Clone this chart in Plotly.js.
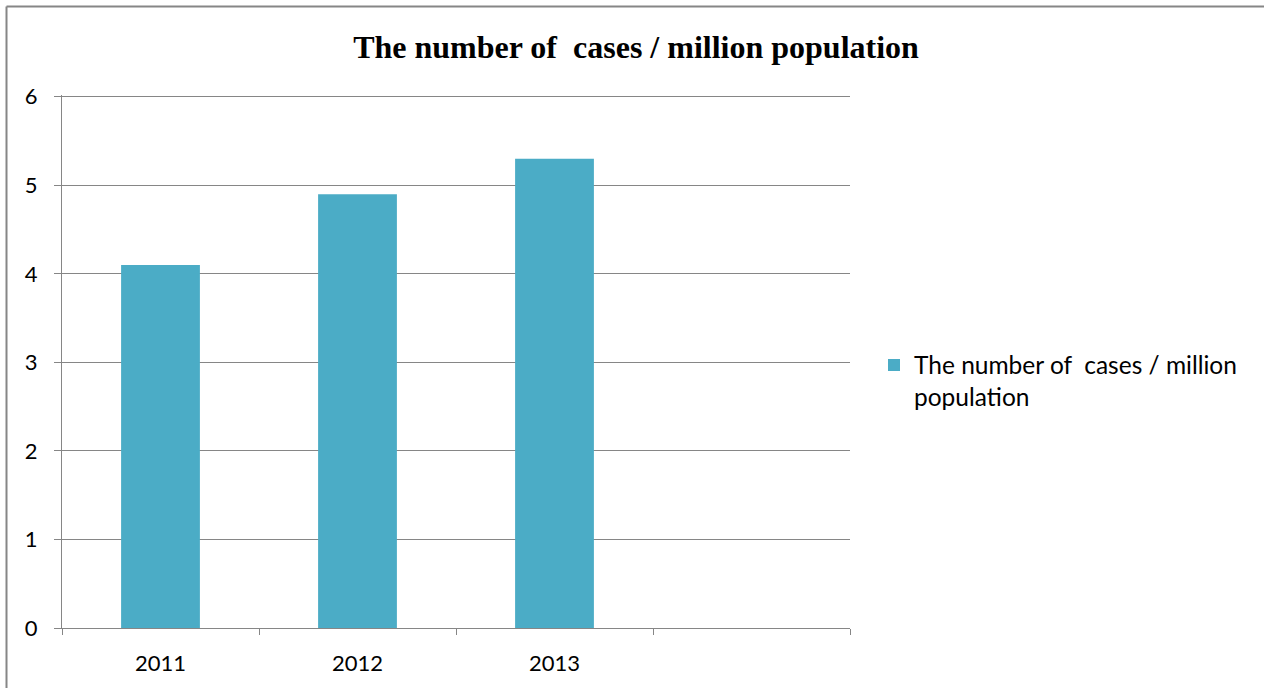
<!DOCTYPE html>
<html>
<head>
<meta charset="utf-8">
<script src="https://cdn.plot.ly/plotly-3.0.1.min.js"></script>
<style>
html,body{margin:0;padding:0;background:#fff;}
#chart{width:1264px;height:688px;}
</style>
</head>
<body>
<div id="chart"></div>
<script>
const categories = ["2011", "2012", "2013", " "];
const values = [4.1, 4.9, 5.3, null];
const seriesName = "The number of&nbsp; cases / million<br>population";
const chartTitle = "The number of&nbsp; cases / million population";
const yTicks = [0, 1, 2, 3, 4, 5, 6];

const W = 1264, H = 688;
const margin = {l: 62, r: 414, t: 95, b: 60};
const pw = W - margin.l - margin.r, ph = H - margin.t - margin.b;
const px = v => (v - margin.l) / pw;
const py = v => 1 - (v - margin.t) / ph;

const trace = {
  type: "bar",
  x: categories,
  y: values,
  name: seriesName,
  marker: {color: "#4BACC6"},
  width: 0.4,
  showlegend: true,
  hoverinfo: "x+y"
};

const tickFont = {family: "Lato, Noto Sans, sans-serif", size: 22, color: "#000"};

const layout = {
  width: W, height: H,
  margin: margin,
  paper_bgcolor: "#fff",
  plot_bgcolor: "#fff",
  title: {
    text: "<b>" + chartTitle + "</b>",
    font: {family: "Liberation Serif, Times New Roman, serif", size: 32, color: "#000"},
    x: 636 / W, xanchor: "center", xref: "container",
    y: 1 - 47 / H, yanchor: "middle", yref: "container"
  },
  font: tickFont,
  xaxis: {
    type: "category",
    categoryorder: "array",
    categoryarray: categories,
    range: [-0.5, 3.5],
    tickson: "boundaries",
    ticks: "outside",
    ticklen: 6,
    tickcolor: "#868686",
    tickwidth: 1,
    showline: true,
    linecolor: "#868686",
    linewidth: 1,
    showgrid: false,
    zeroline: false,
    ticklabelstandoff: 16,
    tickfont: tickFont
  },
  yaxis: {
    range: [0, 6.02],
    tickvals: yTicks,
    ticks: "outside",
    ticklen: 7,
    tickcolor: "#868686",
    tickwidth: 1,
    showline: true,
    linecolor: "#868686",
    linewidth: 1,
    showgrid: true,
    gridcolor: "#868686",
    gridwidth: 1,
    zeroline: false,
    ticklabelstandoff: 12,
    tickfont: tickFont
  },
  legend: {
    x: px(874), xanchor: "left",
    y: py(381), yanchor: "middle",
    valign: "top",
    font: {family: "Lato, Noto Sans, sans-serif", size: 24.5, color: "#000"},
    bgcolor: "rgba(0,0,0,0)",
    itemclick: false
  },
  shapes: [
    {type: "line", xref: "paper", yref: "paper", x0: px(6.5), x1: px(1264), y0: py(6.5), y1: py(6.5), line: {color: "#868686", width: 2}},
    {type: "line", xref: "paper", yref: "paper", x0: px(6.5), x1: px(6.5), y0: py(6.5), y1: py(688), line: {color: "#868686", width: 2}}
  ],
  bargap: 0.6
};

Plotly.newPlot("chart", [trace], layout, {displayModeBar: false, staticPlot: true});
</script>
</body>
</html>
